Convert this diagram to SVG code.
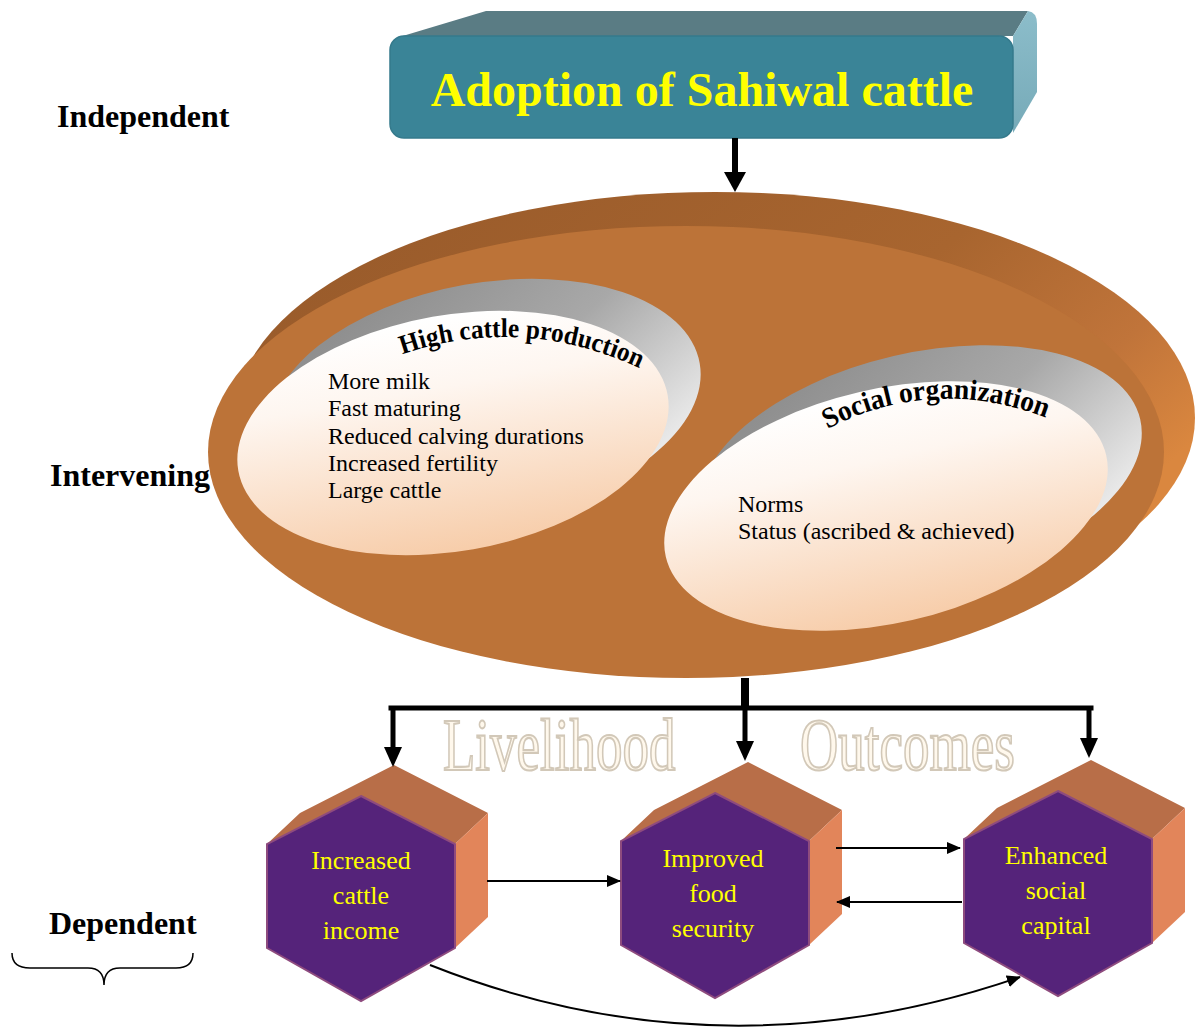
<svg xmlns="http://www.w3.org/2000/svg" xmlns:xlink="http://www.w3.org/1999/xlink" width="1195" height="1027" viewBox="0 0 1195 1027">
<style>
.lbl{font-family:"Liberation Serif","Times New Roman",serif;font-weight:bold;font-size:32px;fill:#000}
.body{font-family:"Liberation Serif","Times New Roman",serif;font-size:24px;fill:#000}
.arc{font-family:"Liberation Serif","Times New Roman",serif;font-weight:bold;fill:#000}
.hex{font-family:"Liberation Serif","Times New Roman",serif;font-size:26px;fill:#FFFF00;text-anchor:middle}
.front{fill:#55237A;stroke:#8E4B7E;stroke-width:2}
.topf{fill:#B86E48}
.side{fill:#E2855A}
.thick{stroke:#000;stroke-width:5;fill:none}
.thin{stroke:#000;stroke-width:2;fill:none}
.ghost{font-family:"Liberation Serif","Times New Roman",serif;font-size:53px;fill:#FFF8EC;stroke:#D2C8B8;stroke-width:1.5}
</style>
<defs>
<linearGradient id="backG" x1="0" y1="0" x2="1" y2="0.55">
<stop offset="0" stop-color="#96592A"/>
<stop offset="0.62" stop-color="#A8652F"/>
<stop offset="0.85" stop-color="#C0743A"/>
<stop offset="1" stop-color="#DA873F"/>
</linearGradient>
<linearGradient id="whiteG" x1="0" y1="0" x2="0" y2="1">
<stop offset="0" stop-color="#FFFFFF"/>
<stop offset="0.3" stop-color="#FEF6F0"/>
<stop offset="1" stop-color="#F7CDAA"/>
</linearGradient>
<linearGradient id="grayG" x1="0.2" y1="0.1" x2="0.95" y2="0.75">
<stop offset="0" stop-color="#8F8F8F"/>
<stop offset="0.5" stop-color="#A8A8A8"/>
<stop offset="1" stop-color="#EAEAEA"/>
</linearGradient>
<linearGradient id="sideG" x1="0" y1="0" x2="0" y2="1">
<stop offset="0" stop-color="#8CBDCA"/>
<stop offset="1" stop-color="#76AAB8"/>
</linearGradient>
<marker id="headBig" viewBox="0 0 20 22" markerWidth="20" markerHeight="22" refX="0" refY="11" orient="auto" markerUnits="userSpaceOnUse">
<path d="M0,0 L20,11 L0,22 Z" fill="#000"/>
</marker>
<marker id="headMid" viewBox="0 0 20 18" markerWidth="20" markerHeight="18" refX="0" refY="9" orient="auto" markerUnits="userSpaceOnUse">
<path d="M0,0 L20,9 L0,18 Z" fill="#000"/>
</marker>
<marker id="headThin" viewBox="0 0 14 12" markerWidth="14" markerHeight="12" refX="13" refY="6" orient="auto" markerUnits="userSpaceOnUse">
<path d="M0,0 L14,6 L0,12 Z" fill="#000"/>
</marker>
<path id="arc1" d="M398,356 Q520,312 644,370"/>
<path id="arc2" d="M822,432 Q932,372 1052,420"/>
</defs>

<rect width="1195" height="1027" fill="#FFFFFF"/>

<g id="labels">
<text class="lbl" x="57" y="127">Independent</text>
<text class="lbl" x="50" y="486">Intervening</text>
<text class="lbl" x="49" y="934">Dependent</text>
<path d="M12,953 Q12,968 30,968 L88,968 Q104,968 104,985 Q104,968 120,968 L176,968 Q193,968 193,953" fill="none" stroke="#000" stroke-width="1.5"/>
</g>

<g id="node-adoption">
<polygon points="396,38 486,11 1028,11 1013,36" fill="#5A7C84"/>
<path d="M1013,36 L1028,11 Q1037,12 1037,24 L1037,92 L1013,133 Z" fill="url(#sideG)"/>
<rect x="390" y="36" width="623" height="102" rx="14" fill="#3A8497" stroke="#357A8C" stroke-width="1.5"/>
<text x="702" y="106" text-anchor="middle" font-family="'Liberation Serif','Times New Roman',serif" font-weight="bold" font-size="48" fill="#FFFF00">Adoption of Sahiwal cattle</text>
</g>

<g id="node-intervening">
<ellipse cx="715" cy="418" rx="480" ry="226" fill="url(#backG)"/>
<ellipse cx="686" cy="452" rx="478" ry="226" fill="#BC7338"/>
</g>

<g id="node-production">
<ellipse cx="485" cy="401" rx="218" ry="118" transform="rotate(-10 485 401)" fill="url(#grayG)"/>
<ellipse cx="453" cy="433" rx="218" ry="118" transform="rotate(-10 453 433)" fill="url(#whiteG)"/>
<text class="arc" font-size="27"><textPath href="#arc1" xlink:href="#arc1" startOffset="50%" text-anchor="middle" textLength="244" lengthAdjust="spacingAndGlyphs">High cattle production</textPath></text>
<text class="body" x="328" y="389">More milk</text>
<text class="body" x="328" y="416">Fast maturing</text>
<text class="body" x="328" y="444">Reduced calving durations</text>
<text class="body" x="328" y="471">Increased fertility</text>
<text class="body" x="328" y="498">Large cattle</text>
</g>

<g id="node-social">
<ellipse cx="920" cy="470" rx="226" ry="117" transform="rotate(-13 920 470)" fill="url(#grayG)"/>
<ellipse cx="886" cy="506" rx="226" ry="117" transform="rotate(-13 886 506)" fill="url(#whiteG)"/>
<text class="arc" font-size="29"><textPath href="#arc2" xlink:href="#arc2" startOffset="50%" text-anchor="middle" textLength="226" lengthAdjust="spacingAndGlyphs">Social organization</textPath></text>
<text class="body" x="738" y="512">Norms</text>
<text class="body" x="738" y="539">Status (ascribed &amp; achieved)</text>
</g>

<g id="title-outcomes">
<text class="ghost" transform="translate(443,770) scale(1,1.4)" x="0" y="0">Livelihood</text>
<text class="ghost" transform="translate(800,770) scale(1,1.4)" x="0" y="0">Outcomes</text>
</g>

<g id="node-income">
<polygon class="topf" points="267,844 300,813 394,765 488,813 455,844 361,796"/>
<polygon class="side" points="455,844 488,813 488,917 455,948"/>
<polygon class="front" points="361,796 455,844 455,948 361,1001 267,948 267,844"/>
<text class="hex" x="361" y="869">Increased</text>
<text class="hex" x="361" y="904">cattle</text>
<text class="hex" x="361" y="939">income</text>
</g>

<g id="node-food">
<polygon class="topf" points="621,841 654,810 748,762 842,810 809,841 715,793"/>
<polygon class="side" points="809,841 842,810 842,914 809,945"/>
<polygon class="front" points="715,793 809,841 809,945 715,998 621,945 621,841"/>
<text class="hex" x="713" y="867">Improved</text>
<text class="hex" x="713" y="902">food</text>
<text class="hex" x="713" y="937">security</text>
</g>

<g id="node-social-capital">
<polygon class="topf" points="964,839 997,808 1091,760 1185,808 1152,839 1058,791"/>
<polygon class="side" points="1152,839 1185,808 1185,912 1152,943"/>
<polygon class="front" points="1058,791 1152,839 1152,943 1058,996 964,943 964,839"/>
<text class="hex" x="1056" y="864">Enhanced</text>
<text class="hex" x="1056" y="899">social</text>
<text class="hex" x="1056" y="934">capital</text>
</g>

<g id="connectors">
<line x1="735" y1="138" x2="735" y2="172" stroke="#000" stroke-width="6" marker-end="url(#headBig)"/>
<line x1="745" y1="678" x2="745" y2="710" stroke="#000" stroke-width="8"/>
<line class="thick" x1="391" y1="708" x2="1091" y2="708" stroke-linecap="square"/>
<line class="thick" x1="393" y1="708" x2="393" y2="747" marker-end="url(#headMid)"/>
<line class="thick" x1="745" y1="708" x2="745" y2="741" marker-end="url(#headMid)"/>
<line class="thick" x1="1089" y1="708" x2="1089" y2="738" marker-end="url(#headMid)"/>
<line class="thin" x1="487" y1="881" x2="620" y2="881" marker-end="url(#headThin)"/>
<line class="thin" x1="836" y1="848" x2="960" y2="848" marker-end="url(#headThin)"/>
<line class="thin" x1="962" y1="902" x2="837" y2="902" marker-end="url(#headThin)"/>
<path class="thin" d="M430,965 Q720,1080 1020,977" marker-end="url(#headThin)"/>
</g>
</svg>
